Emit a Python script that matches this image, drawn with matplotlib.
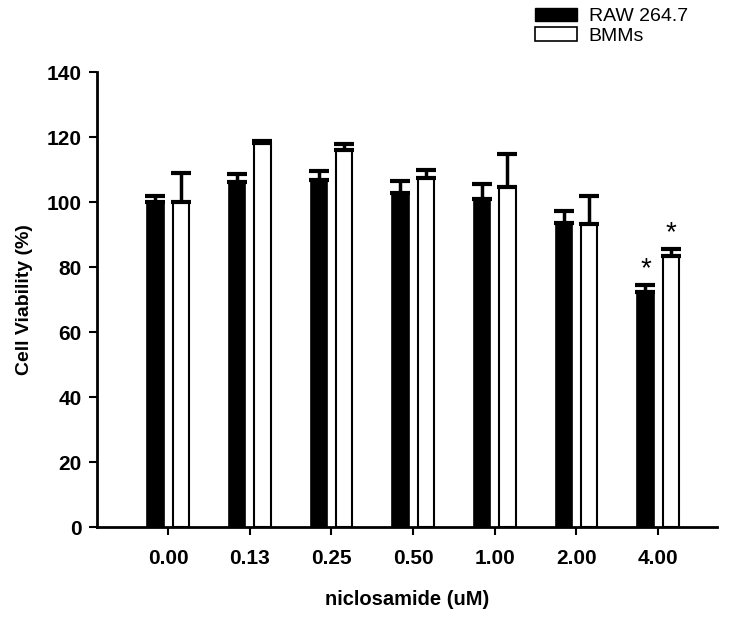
import matplotlib
matplotlib.use("Agg")
import matplotlib.pyplot as plt
import numpy as np
from matplotlib.patches import Patch

plt.rcParams["font.family"] = ["Liberation Sans", "DejaVu Sans"]

doses = ["0.00", "0.13", "0.25", "0.50", "1.00", "2.00", "4.00"]
raw_mean = [100.0, 106.3, 106.8, 102.7, 100.8, 93.4, 72.3]
raw_err = [2.0, 2.4, 2.6, 3.9, 4.9, 3.7, 2.1]
bmm_mean = [100.0, 118.2, 116.0, 107.3, 104.5, 93.3, 83.4]
bmm_err = [8.9, 0.7, 2.0, 2.7, 10.3, 8.6, 2.0]
signif = [False, False, False, False, False, False, True]

fig = plt.figure(figsize=(7.38, 6.19), dpi=100)
ax = fig.add_axes([0.1314, 0.1486, 0.840, 0.735])

x = np.arange(len(doses))
w = 0.2
off = 0.155
ax.bar(x - off, raw_mean, w, color="black", edgecolor="black", lw=1.2,
       yerr=[np.zeros(len(x)), raw_err], capsize=7,
       error_kw=dict(ecolor="black", elinewidth=2.5, capthick=3))
ax.bar(x + off, bmm_mean, w, color="white", edgecolor="black", lw=1.5,
       yerr=[np.zeros(len(x)), bmm_err], capsize=7,
       error_kw=dict(ecolor="black", elinewidth=2.5, capthick=3))

for i, s in enumerate(signif):
    if s:
        ax.text(x[i] - off, raw_mean[i] + raw_err[i] + 1.0, "*", ha="center", va="bottom",
                fontsize=20)
        ax.text(x[i] + off, bmm_mean[i] + bmm_err[i] + 1.0, "*", ha="center", va="bottom",
                fontsize=20)

ax.set_xlim(-0.87, 6.72)
ax.set_ylim(0, 140)
ax.set_yticks(range(0, 141, 20))
ax.set_xticks(x)
ax.set_xticklabels(doses)
for side in ("top", "right"):
    ax.spines[side].set_visible(False)
for side in ("left", "bottom"):
    ax.spines[side].set_linewidth(2)
ax.tick_params(axis="both", width=1.5, length=6, labelsize=15)
ax.tick_params(axis="x", pad=10)
ax.tick_params(axis="y", pad=5)
for lab in ax.get_xticklabels() + ax.get_yticklabels():
    lab.set_fontweight("bold")
ax.set_xlabel("niclosamide (uM)", fontsize=14.5, fontweight="bold", labelpad=16)
ax.set_ylabel("Cell Viability (%)", fontsize=14, fontweight="bold", labelpad=10)

handles = [Patch(facecolor="black", edgecolor="black", label="RAW 264.7"),
           Patch(facecolor="white", edgecolor="black", lw=1.2, label="BMMs")]
fig.legend(handles=handles, loc="upper left", bbox_to_anchor=(0.7015, 1.016), frameon=False,
           fontsize=14, handlelength=2.15, handleheight=0.72, labelspacing=0.1,
           handletextpad=0.6)

fig.savefig("out.png", dpi=100)
